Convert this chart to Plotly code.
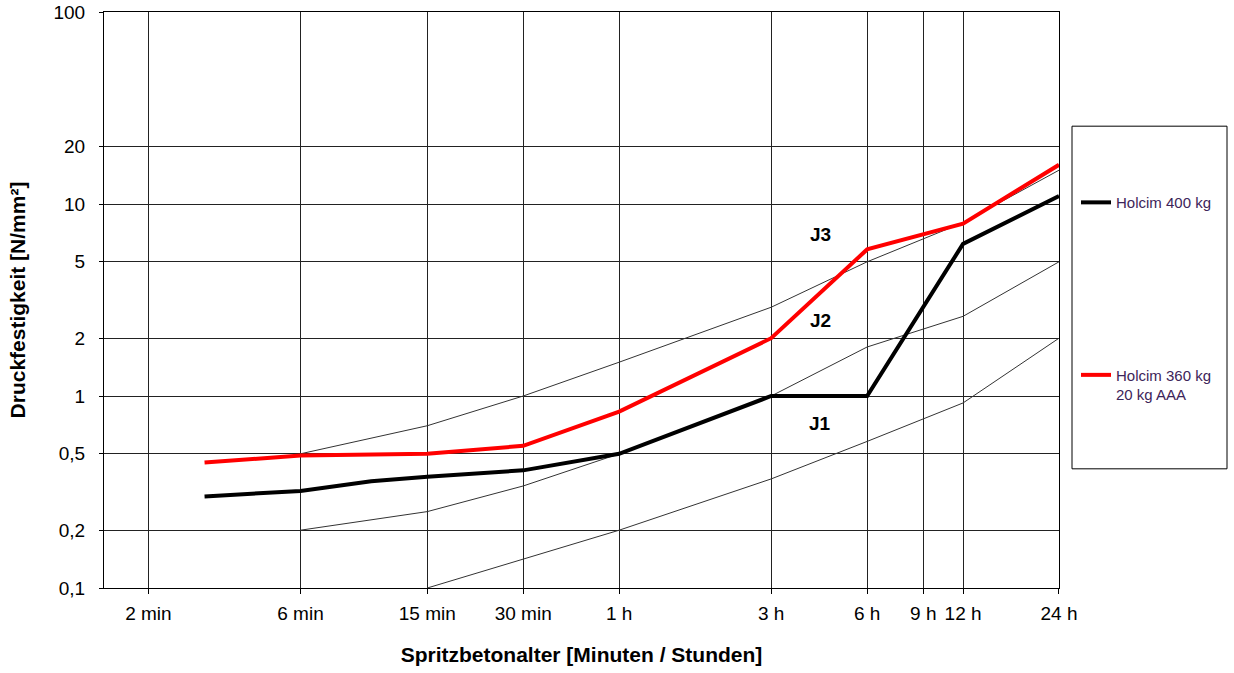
import math
import plotly.graph_objects as go

# ---------------- data ----------------
time_tickvals = [2, 6, 15, 30, 60, 180, 360, 540, 720, 1440]
time_ticktext = ["2 min", "6 min", "15 min", "30 min", "1 h", "3 h", "6 h", "9 h", "12 h", "24 h"]

strength_tickvals = [0.1, 0.2, 0.5, 1, 2, 5, 10, 20, 100]
strength_ticktext = ["0,1", "0,2", "0,5", "1", "2", "5", "10", "20", "100"]

# measured series (time in minutes, strength in N/mm²)
t_400 = [3, 6, 10, 15, 30, 60, 180, 360, 720, 1440]
holcim_400 = [0.30, 0.32, 0.36, 0.38, 0.41, 0.50, 1.0, 1.0, 6.2, 11.0]

t_360 = [3, 6, 15, 30, 60, 180, 360, 720, 1440]
holcim_360 = [0.45, 0.49, 0.50, 0.55, 0.83, 2.0, 5.8, 7.9, 16.0]

# class boundary curves (J1 / J2 / J3)
t_b_upper = [6, 15, 30, 60, 180, 360, 720, 1440]
b_upper = [0.5, 0.7, 1.0, 1.5, 2.9, 5.0, 8.0, 15.0]

t_b_mid = [6, 15, 30, 60, 180, 360, 720, 1440]
b_mid = [0.2, 0.25, 0.34, 0.5, 1.0, 1.8, 2.6, 5.0]

t_b_low = [15, 30, 60, 180, 360, 720, 1440]
b_low = [0.1, 0.142, 0.2, 0.37, 0.58, 0.92, 2.0]

class_labels = ["J3", "J2", "J1"]
class_label_t = [257, 257, 257]
class_label_v = [6.97, 2.47, 0.716]

FONT = "Liberation Sans, Arial, sans-serif"

fig = go.Figure()

for tx, vy in [(t_b_upper, b_upper), (t_b_mid, b_mid), (t_b_low, b_low)]:
    fig.add_trace(go.Scatter(x=tx, y=vy, mode="lines",
                             line=dict(color="#333333", width=1),
                             showlegend=False, hoverinfo="skip"))

fig.add_trace(go.Scatter(x=t_400, y=holcim_400, mode="lines", name="Holcim 400 kg",
                         line=dict(color="#000000", width=4), legendgroup="a"))
fig.add_trace(go.Scatter(x=t_360, y=holcim_360, mode="lines", name="Holcim 360 kg<br>20 kg AAA",
                         line=dict(color="#ff0000", width=4), legendgroup="b"))

for lab, tx, vy in zip(class_labels, class_label_t, class_label_v):
    fig.add_annotation(x=math.log10(tx), y=math.log10(vy), xref="x", yref="y",
                       text="<b>%s</b>" % lab, showarrow=False,
                       font=dict(family=FONT, size=19, color="#000000"))

# legend frame
def px_x(px):
    return (px - 104) / 955.0

def px_y(py):
    return (588.3 - py) / 576.6

fig.add_shape(type="rect", xref="paper", yref="paper",
              x0=px_x(1072), x1=px_x(1227), y0=px_y(469), y1=px_y(126),
              line=dict(color="#000000", width=1), fillcolor="rgba(0,0,0,0)")

fig.update_layout(
    width=1234, height=673,
    margin=dict(l=104, r=175, t=12, b=85, autoexpand=False),
    paper_bgcolor="white", plot_bgcolor="white",
    font=dict(family=FONT, size=19, color="#000000"),
    showlegend=True,
    legend=dict(x=px_x(1076), y=px_y(186), xanchor="left", yanchor="top",
                bgcolor="rgba(0,0,0,0)", borderwidth=0,
                tracegroupgap=150, valign="top", itemwidth=30,
                font=dict(family=FONT, size=15, color="#3d2459")),
)

fig.update_xaxes(
    type="log", range=[0.1616, 3.1584], automargin=False,
    tickvals=time_tickvals, ticktext=time_ticktext,
    ticks="outside", ticklen=5, tickcolor="#000000",
    showgrid=True, gridcolor="#222222", gridwidth=1,
    showline=True, linecolor="#000000", linewidth=1, mirror=True,
    zeroline=False, ticklabelstandoff=3,
    tickfont=dict(family=FONT, size=19, color="#000000"),
    title=dict(text="<b>Spritzbetonalter [Minuten / Stunden]</b>",
               font=dict(family=FONT, size=21, color="#000000"), standoff=24),
)

fig.update_yaxes(
    type="log", range=[-1, 2], automargin=False,
    tickvals=strength_tickvals, ticktext=strength_ticktext,
    ticks="outside", ticklen=4, tickcolor="#000000",
    showgrid=True, gridcolor="#222222", gridwidth=1,
    showline=True, linecolor="#000000", linewidth=1, mirror=True,
    zeroline=False, ticklabelstandoff=10,
    tickfont=dict(family=FONT, size=19, color="#000000"),
    title=dict(text="<b>Druckfestigkeit [N/mm²]</b>",
               font=dict(family=FONT, size=21, color="#000000"), standoff=22),
)

fig.write_html("out.html", config={"displayModeBar": False},
               post_script="document.body.style.margin='0';")
